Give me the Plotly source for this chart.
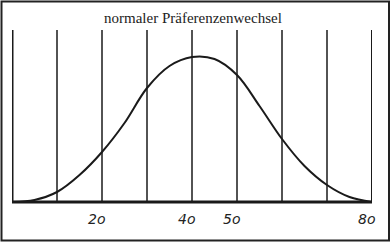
import plotly.graph_objects as go

# curve readings (x value, relative height)
curve_x = [0, 5, 10, 15, 20, 25, 30, 35, 40, 45, 50, 55, 60, 65, 70, 75, 80]
curve_y = [0, 2, 10, 27, 50, 79, 114, 136, 145, 143, 127, 96, 63, 36, 17, 5, 0]

grid_x = [0, 10, 20, 30, 40, 50, 60, 70, 80]
tick_vals = [20, 40, 50, 80]
tick_text = ["2o", "4o", "5o", "8o"]
title_text = "normaler Präferenzenwechsel"

fig = go.Figure()
fig.add_trace(go.Scatter(x=curve_x, y=curve_y, mode="lines",
                         line=dict(color="#1a1a1a", width=2, shape="spline", smoothing=1.0),
                         hoverinfo="skip", showlegend=False))

for gx in grid_x:
    w = 3 if gx == 0 else (2 if gx == 80 else 1.5)
    fig.add_shape(type="line", xref="x", yref="paper", x0=gx, x1=gx, y0=0, y1=1,
                  line=dict(color="#1a1a1a", width=w), layer="below")

# baseline
fig.add_shape(type="line", xref="x", yref="paper", x0=0, x1=80, y0=0, y1=0,
              line=dict(color="#1a1a1a", width=3))

# outer frame
fig.add_shape(type="rect", xref="paper", yref="paper",
              x0=-10.5/360, x1=377/360, y0=-38.5/172, y1=200.5/172,
              line=dict(color="#222", width=2))

for v, t in zip(tick_vals, tick_text):
    fig.add_annotation(x=v, y=0, xref="x", yref="paper", text=t, showarrow=False,
                       yanchor="top", yshift=-7, xshift=-6,
                       font=dict(family="DejaVu Sans", size=14, color="#222", style="italic"))

fig.add_annotation(x=0.503, y=1, xref="paper", yref="paper", text=title_text, showarrow=False,
                   yanchor="bottom", yshift=2,
                   font=dict(family="Liberation Serif", size=15, color="#222"))

fig.update_layout(
    width=392, height=243,
    margin=dict(l=12, r=20, t=30, b=41),
    paper_bgcolor="white", plot_bgcolor="white",
    xaxis=dict(range=[0, 80], visible=False, fixedrange=True),
    yaxis=dict(range=[0, 172], visible=False, fixedrange=True),
)
fig.write_html("out.html")
